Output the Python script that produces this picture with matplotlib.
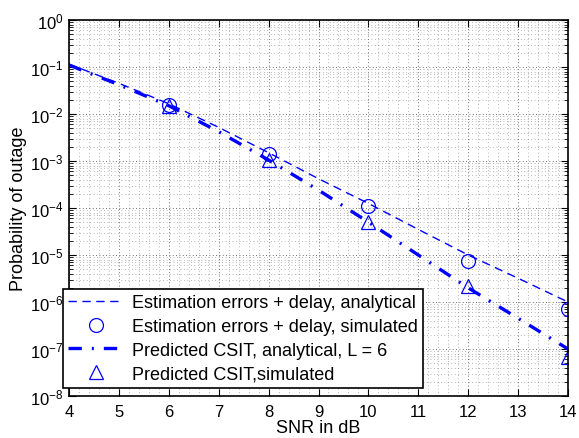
import numpy as np
import matplotlib
matplotlib.use("Agg")
import matplotlib.pyplot as plt
from matplotlib.ticker import LogLocator, MultipleLocator, NullFormatter

plt.rcParams['font.family'] = ['Liberation Sans', 'DejaVu Sans']
plt.rcParams['mathtext.fontset'] = 'custom'
plt.rcParams['mathtext.rm'] = 'Liberation Sans'
plt.rcParams['mathtext.it'] = 'Liberation Sans'

# --- data ---
snr_line = [4, 5, 6, 7, 8, 9, 10, 11, 12, 13, 14]
est_analytical = [0.115, 0.045, 0.0165, 5.2e-3, 1.5e-3, 4.2e-4, 1.25e-4, 3.5e-5, 1.0e-5, 3.2e-6, 1.0e-6]
pred_analytical = [0.11, 0.042, 0.015, 4.2e-3, 1.05e-3, 2.4e-4, 5.0e-5, 1.0e-5, 2.0e-6, 4.5e-7, 1.0e-7]

snr_sim = [6, 8, 10, 12, 14]
est_simulated = [1.55e-2, 1.4e-3, 1.1e-4, 7.4e-6, 7.0e-7]
pred_simulated = [1.45e-2, 1.05e-3, 5.0e-5, 2.2e-6, 6.8e-8]

labels = ["Estimation errors + delay, analytical",
          "Estimation errors + delay, simulated",
          "Predicted CSIT, analytical, L = 6",
          "Predicted CSIT,simulated"]

blue = (0, 0, 1)

fig = plt.figure(figsize=(5.79, 4.39), dpi=100)
ax = fig.add_axes([69 / 579, 1 - 397 / 439, (568 - 69) / 579, (397 - 21) / 439])

ax.semilogy(snr_line, est_analytical, color=blue, lw=1.0, ls=(0, (6, 4)), label=labels[0])
ax.semilogy(snr_sim, est_simulated, color=blue, lw=0, marker='o', ms=10,
            mfc='none', mew=0.9, label=labels[1])
ax.semilogy(snr_line, pred_analytical, color=blue, lw=2.4, ls=(0, (4, 3, 0.6, 3)), label=labels[2])
ax.semilogy(snr_sim, pred_simulated, color=blue, lw=0, marker='^', ms=10,
            mfc='none', mew=0.9, label=labels[3])

ax.set_xlim(4, 14)
ax.set_ylim(1e-8, 1)
ax.xaxis.set_major_locator(MultipleLocator(1))
ax.xaxis.set_minor_locator(MultipleLocator(0.2))
ax.xaxis.set_minor_formatter(NullFormatter())
ax.yaxis.set_major_locator(LogLocator(base=10, numticks=20))
ax.yaxis.set_minor_locator(LogLocator(base=10, subs=np.arange(2, 10), numticks=20))
ax.yaxis.set_minor_formatter(NullFormatter())

ax.tick_params(which='both', direction='in', top=True, right=True, labelsize=12)
ax.tick_params(axis='x', which='major', pad=6)
ax.tick_params(axis='y', which='major', pad=4)
ax.tick_params(which='major', length=5, width=0.8)
ax.tick_params(axis='y', which='minor', length=3, width=0.6)
ax.tick_params(axis='x', which='minor', length=0)

# dotted MATLAB-like grid
ax.grid(True, which='major', ls=(0, (1, 3)), color='0.25', lw=0.6)
ax.grid(True, which='minor', ls=(0, (1, 4)), color='0.45', lw=0.5)

for s in ax.spines.values():
    s.set_linewidth(1.2)

ax.set_xlabel("SNR in dB", fontsize=13, labelpad=0)
ax.set_ylabel("Probability of outage", fontsize=13, labelpad=2)

leg = ax.legend(loc='lower left', bbox_to_anchor=(63 / 579, 1 - 389 / 439),
                bbox_transform=fig.transFigure, fontsize=13, frameon=True,
                fancybox=False, edgecolor='black', framealpha=1,
                borderpad=0.3, labelspacing=0.38, handlelength=3.0,
                handletextpad=0.5, borderaxespad=0)
leg.get_frame().set_linewidth(1.2)

fig.savefig("out.png", dpi=100)
